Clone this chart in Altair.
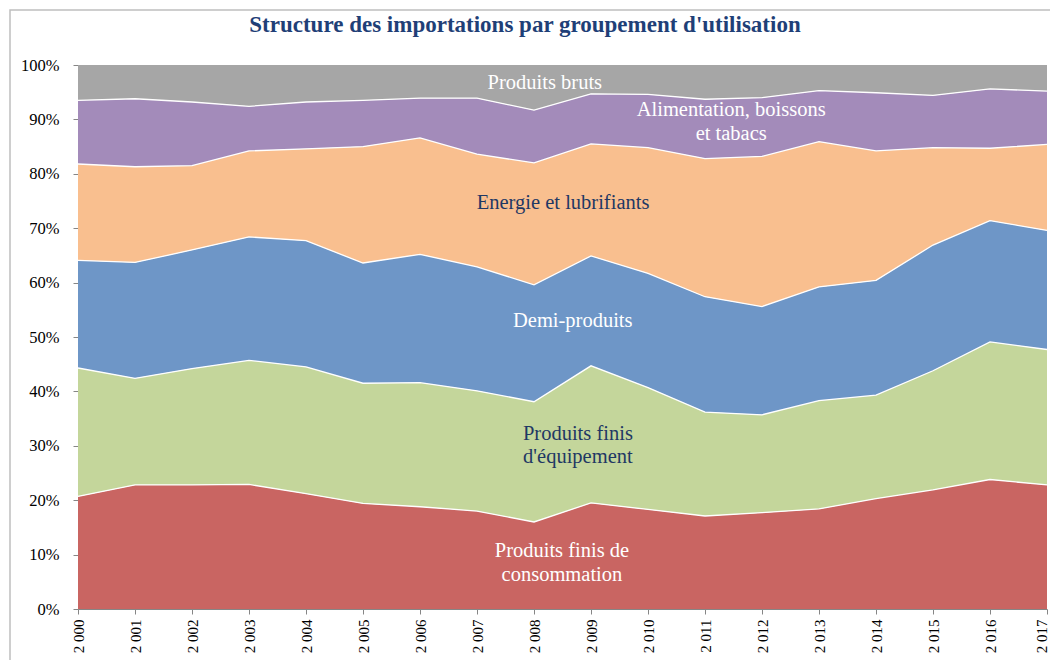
import altair as alt
import pandas as pd

years = list(range(2000, 2018))
series = [
    "Produits finis de consommation",
    "Produits finis d'équipement",
    "Demi-produits",
    "Energie et lubrifiants",
    "Alimentation, boissons et tabacs",
    "Produits bruts",
]
colors = ["#C96562", "#C4D69B", "#6E96C7", "#F9BF8F", "#A38BBA", "#A6A6A6"]

cons = [20.7, 22.8, 22.8, 22.9, 21.2, 19.4, 18.8, 18.0, 16.0, 19.5, 18.3, 17.1, 17.7, 18.4, 20.3, 21.9, 23.8, 22.8]
equip = [23.6, 19.6, 21.4, 22.8, 23.3, 22.1, 22.8, 22.1, 22.1, 25.2, 22.4, 19.1, 18.0, 19.9, 19.0, 21.9, 25.3, 24.9]
demi = [19.8, 21.3, 21.8, 22.7, 23.2, 22.1, 23.6, 22.8, 21.5, 20.2, 21.0, 21.2, 19.9, 20.9, 21.1, 23.1, 22.3, 21.9]
energie = [17.7, 17.6, 15.5, 15.8, 16.9, 21.4, 21.4, 20.7, 22.4, 20.6, 23.1, 25.4, 27.6, 26.7, 23.8, 17.9, 13.3, 15.8]
alim = [11.7, 12.5, 11.7, 8.2, 8.6, 8.5, 7.3, 10.3, 9.7, 9.2, 9.8, 10.9, 10.8, 9.4, 10.7, 9.6, 10.9, 9.8]
bruts = [6.5, 6.2, 6.8, 7.6, 6.8, 6.5, 6.1, 6.1, 8.3, 5.3, 5.4, 6.3, 6.0, 4.7, 5.1, 5.6, 4.4, 4.8]

values = [cons, equip, demi, energie, alim, bruts]

rows = []
for k, (name, vals) in enumerate(zip(series, values)):
    for y, v in zip(years, vals):
        rows.append({"year": y, "serie": name, "ordre": k, "part": v})
df = pd.DataFrame(rows)

# Area labels (data coordinates: year, share of first line)
lab_text = ["Produits bruts", "Alimentation, boissons\net tabacs", "Energie et lubrifiants",
            "Demi-produits", "Produits finis\nd'équipement", "Produits finis de\nconsommation"]
lab_x = [2008.19, 2011.46, 2008.51, 2008.68, 2008.77, 2008.49]
lab_y = [0.967, 0.917, 0.746, 0.529, 0.3217, 0.1066]
lab_col = ["#FFFFFF", "#FFFFFF", "#1F3864", "#FFFFFF", "#1F3864", "#FFFFFF"]
labels = pd.DataFrame({"x": lab_x, "y": lab_y, "t": lab_text, "c": lab_col})

title_text = "Structure des importations par groupement d'utilisation"

FONT = "Liberation Serif"

base = alt.Chart(df).transform_stack(
    stack="part", groupby=["year"], as_=["v0", "v1"], offset="normalize",
    sort=[alt.SortField("ordre", order="ascending")],
)

xenc = alt.X("year:Q", scale=alt.Scale(domain=[2000, 2017], nice=False, zero=False),
             axis=alt.Axis(values=years, title=None, labelAngle=270, labelPadding=5,
                           labelFontSize=15,
                           labelOffset={"expr": "datum.value == 2017 ? -6 : 0"},
                           labelExpr="substring(toString(datum.value),0,1) + ' ' + substring(toString(datum.value),1)"))

areas = base.mark_area(opacity=1).encode(
    x=xenc,
    y=alt.Y("v0:Q", scale=alt.Scale(domain=[0, 1], nice=False),
            axis=alt.Axis(values=[i / 10 for i in range(11)], format=".0%", title=None,
                          labelPadding=14, labelFontSize=16.5)),
    y2="v1:Q",
    color=alt.Color("serie:N", scale=alt.Scale(domain=series, range=colors), legend=None),
    order=alt.Order("ordre:Q"),
)

lines = base.transform_filter(alt.datum.ordre < 5).mark_line(color="white", strokeWidth=1.3).encode(
    x="year:Q",
    y="v1:Q",
    detail="serie:N",
)

texts = alt.Chart(labels).mark_text(font=FONT, fontSize=20.5, lineBreak="\n", lineHeight=23.5,
                                     align="center", baseline="middle").encode(
    x="x:Q", y="y:Q", text="t:N", color=alt.Color("c:N", scale=None),
)

one = alt.Chart(pd.DataFrame({"t": [title_text]}))

frame = one.mark_rect(fill=None, stroke="#BFBFBF", strokeWidth=1.5).encode(
    x=alt.value(-68), x2=alt.value(1100), y=alt.value(-55), y2=alt.value(700),
)

title = one.mark_text(font=FONT, fontSize=23, fontWeight="bold", color="#1F3F77",
                      align="center", baseline="alphabetic").encode(
    x=alt.value(447), y=alt.value(-33), text="t:N",
)

chart = alt.layer(frame, areas, lines, texts, title).properties(
    width=969, height=544,
    autosize=alt.AutoSizeParams(type="none"),
    padding={"left": 70, "top": 57, "right": 3, "bottom": 51},
).configure_view(stroke=None).configure_axis(
    labelFont=FONT, labelColor="#000000", domainColor="#868686", tickColor="#868686",
    tickSize=5, grid=False,
)

chart.save("out.html", embed_options={"renderer": "svg", "actions": False})
